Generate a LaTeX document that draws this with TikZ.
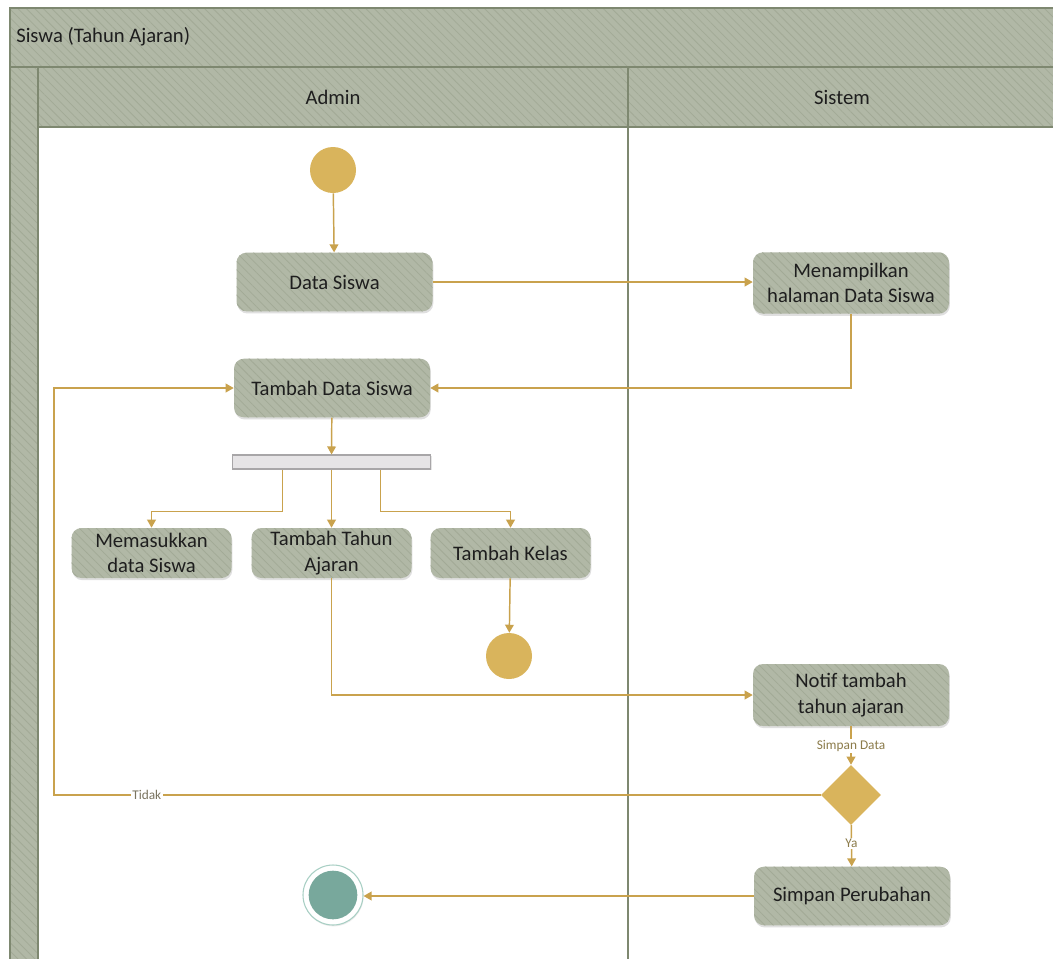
\documentclass[tikz,border=0pt]{standalone}
\usepackage{fontspec}
\setmainfont{Carlito}
\usetikzlibrary{shapes.geometric,patterns.meta,arrows.meta,calc,shadows}
\definecolor{boxfill}{HTML}{B1B8A6}
\definecolor{hatchc}{HTML}{A2AA96}
\definecolor{bordc}{HTML}{7E8870}
\definecolor{linec}{HTML}{C9A24D}
\definecolor{startc}{HTML}{D9B45C}
\definecolor{forkc}{HTML}{E6E4E6}
\definecolor{forkb}{HTML}{A8A6A8}
\definecolor{finc}{HTML}{78A89C}
\definecolor{ringc}{HTML}{A8CFC4}
\definecolor{lblc}{HTML}{8B7B4A}
\definecolor{lblg}{HTML}{7A7460}
\definecolor{textc}{HTML}{1E1E1E}
\newcommand{\boxfont}{\fontsize{15.5}{19}\selectfont}
\newcommand{\lblfont}{\fontsize{10}{12}\selectfont}
\begin{document}
\begin{tikzpicture}[x=0.75pt,y=-0.75pt,
  hatched/.style={preaction={fill=boxfill},
    pattern={Lines[angle=-45,distance=4.5pt,line width=0.6pt]}, pattern color=hatchc},
  lanehead/.style={hatched, draw=bordc, line width=1.2pt},
  laneline/.style={draw=bordc, line width=1.2pt},
  actbox/.style={rectangle, rounded corners=7.5pt, minimum width=147pt, minimum height=44pt,
    inner sep=2pt, align=center, font=\boxfont, text=textc,
    drop shadow={shadow xshift=0.6pt, shadow yshift=-1.6pt, opacity=0.25},
    hatched},
  smallbox/.style={actbox, minimum width=120pt, minimum height=37.5pt},
  startnode/.style={circle, fill=startc, minimum size=34.5pt, inner sep=0pt},
  forkbar/.style={rectangle, minimum width=149pt, minimum height=10.5pt, inner sep=0pt,
    fill=forkc, draw=forkb, line width=0.8pt,
    drop shadow={shadow xshift=0.5pt, shadow yshift=-1pt, opacity=0.2}},
  decision/.style={diamond, fill=startc, minimum width=45pt, minimum height=45pt, inner sep=0pt},
  conn/.style={draw=linec, line width=1.1pt, -{Triangle[length=6pt,width=6.5pt]}},
  lbl/.style={fill=white, inner sep=1pt, font=\lblfont, text=lblc},
  headtext/.style={font=\boxfont, text=textc}
]
\useasboundingbox (0,0) rectangle (1053,958);
\fill[white] (0,0) rectangle (1053,958);

% swimlanes
\begin{scope}
\clip (0,0) rectangle (1053,958);
\draw[lanehead] (10,8) rectangle (1100,67);
\draw[lanehead] (10,67) rectangle (38,1000);
\draw[lanehead] (38,67) rectangle (628,127);
\draw[lanehead] (628,67) rectangle (1100,127);
\draw[laneline] (628,127) -- (628,1000);
\end{scope}
\node[headtext, anchor=west, inner sep=0pt] (title) at (16,37) {Siswa (Tahun Ajaran)};
\node[headtext] (admin) at (333,97) {Admin};
\node[headtext] (sistem) at (842,97) {Sistem};

% nodes
\node[startnode] (start) at (333,170) {};
\node[actbox] (ds) at (334.5,282) {Data Siswa};
\node[actbox, minimum height=46pt] (menampilkan) at (851,283) {Menampilkan\\halaman Data Siswa};
\node[actbox] (tds) at (332,388) {Tambah Data Siswa};
\node[forkbar] (fork) at (331.5,462) {};
\node[smallbox] (mem) at (151.5,553) {Memasukkan\\data Siswa};
\node[smallbox] (tta) at (331.5,553) {Tambah Tahun\\Ajaran};
\node[smallbox] (tk) at (510.5,553) {Tambah Kelas};
\node[startnode] (end1) at (509,656) {};
\node[actbox, minimum height=46.5pt] (notif) at (851,695) {Notif tambah\\tahun ajaran};
\node[decision] (dec) at (851,795) {};
\node[actbox] (sp) at (852,896) {Simpan Perubahan};
\node[circle, minimum size=45pt, inner sep=0pt, draw=ringc, line width=0.8pt, fill=white,
  drop shadow={shadow xshift=0.4pt, shadow yshift=-1pt, opacity=0.15}] (fin) at (333,895) {};
\node[circle, minimum size=36.5pt, inner sep=0pt, fill=finc] (finin) at (fin.center) {};
\coordinate (lp) at (54,795);

% connectors
\draw[conn] (start) -- (ds);
\draw[conn] (ds.east) -- (ds.east -| menampilkan.west);
\draw[conn] (menampilkan.south) |- (tds.east);
\draw[conn] (tds) -- (fork);
\draw[conn] ($(fork.south)+(-49,0)$) -- ++(0,42) -| (mem.north);
\draw[conn] (fork) -- (tta);
\draw[conn] ($(fork.south)+(49,0)$) -- ++(0,42) -| (tk.north);
\draw[conn] (tk) -- (end1);
\draw[conn] (tta.south) |- (notif.west);
\draw[conn] (notif) -- node[lbl, pos=0.5] {Simpan Data} (dec);
\draw[conn] (dec) -- node[lbl, pos=0.45] {Ya} (sp);
\draw[conn] (dec.west) -- node[lbl, text=lblg, pos=0.879] {Tidak} (dec.west -| lp) |- (tds.west);
\draw[conn] (sp.west) -- (sp.west -| fin.east);
\end{tikzpicture}
\end{document}
